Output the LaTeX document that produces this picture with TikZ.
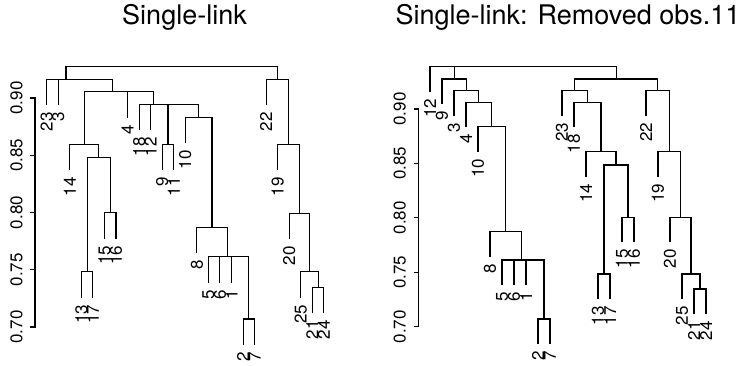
\documentclass[tikz,border=0pt]{standalone}
\usepackage{fontspec}
\setmainfont{TeX Gyre Heros}
\usetikzlibrary{calc}
\tikzset{
  dline/.style={line width=1.05pt, black, line cap=rect},
  leaflab/.style={rotate=90, anchor=east, inner sep=0pt, font=\fontsize{17}{17}\selectfont},
  axlab/.style={rotate=90, anchor=center, inner sep=0pt, font=\fontsize{17}{17}\selectfont},
  ttl/.style={anchor=base, inner sep=0pt, font=\fontsize{27}{27}\selectfont}
}
\newcommand\mrg[4]{\coordinate (#4) at (#3); \draw[dline] (#1) |- (#4) -| (#2);}
\begin{document}
\begin{tikzpicture}[x=1pt,y=-1pt]
\useasboundingbox (0,0) rectangle (746,366);
% titles
\node[ttl] (t1) at (184.5,25) {Single-link};
\node[ttl] (t2) at (568,25) {Single-link: Removed obs.11};
% ---------------- left panel ----------------
\draw[dline] (35,98) coordinate (axA0) -- (35,327) coordinate (axA1);
\foreach \v/\y in {0.90/98,0.85/155.25,0.80/212.5,0.75/269.75,0.70/327}{
  \draw[dline] (35,\y) coordinate (tA\v) -- (31,\y);
  \node[axlab] (yA\v) at (16.5,\y) {\v};
}
\foreach \lab/\x/\y in {23/46.7/104.8, 3/58.25/104.8, 14/69.8/169.8, 13/81.35/297.2, 17/92.9/297.2,
  15/104.45/238.2, 16/116.0/238.2, 4/127.55/117.2, 18/139.1/129.8, 12/150.65/129.8, 9/162.2/169.8,
  11/173.75/169.8, 10/185.3/142.8, 8/196.85/252.8, 5/208.4/282.2, 6/219.95/282.2, 1/231.5/282.2,
  2/243.05/344.5, 7/254.6/344.5, 22/266.15/104.8, 19/277.7/169.8, 20/289.25/238.8, 25/300.8/297.2,
  21/312.35/312.8, 24/323.9/312.8}{
  \coordinate (A\lab) at (\x,\y);
  \node[leaflab] (lA\lab) at (\x,\y+7.5) {\lab};
}
\mrg{A13}{A17}{87.125,271.7}{a1}
\mrg{A15}{A16}{110.225,212.7}{a2}
\mrg{a1}{a2}{98.675,157.3}{a3}
\mrg{A14}{a3}{84.2375,144.3}{a4}
\mrg{A9}{A11}{167.975,144.3}{a5}
\mrg{A2}{A7}{248.825,319}{a6}
\mrg{A5}{A6}{214.175,256.7}{a7}
\mrg{A1}{a6}{240.1625,256.7}{a8}
\mrg{a7}{a8}{227.17,256.7}{a9}
\mrg{A8}{a9}{212.01,227.3}{a10}
\mrg{A10}{a10}{198.655,117.3}{a11}
\mrg{a5}{a11}{183.315,104.3}{a12}
\mrg{A12}{a12}{166.98,104.3}{a13}
\mrg{A18}{a13}{153.04,104.3}{a14}
\mrg{A4}{a14}{140.295,91.7}{a15}
\mrg{a4}{a15}{112.27,91.7}{a16}
\mrg{A3}{a16}{85.26,79.3}{a17}
\mrg{A23}{a17}{65.98,79.3}{a18}
\mrg{A21}{A24}{318.125,287.3}{b1}
\mrg{A25}{b1}{309.46,271.7}{b2}
\mrg{A20}{b2}{299.36,213.3}{b3}
\mrg{A19}{b3}{288.53,144.3}{b4}
\mrg{A22}{b4}{277.34,79.3}{b5}
\mrg{a18}{b5}{171.66,66.7}{rootA}
% ---------------- right panel ----------------
\draw[dline] (418.3,109) coordinate (axB0) -- (418.3,326.7) coordinate (axB1);
\foreach \v/\y in {0.90/109,0.85/163.4,0.80/217.8,0.75/272.3,0.70/326.7}{
  \draw[dline] (418.3,\y) coordinate (tB\v) -- (414.3,\y);
  \node[axlab] (yB\v) at (399.8,\y) {\v};
}
\foreach \lab/\x/\y in {12/430/91.2, 9/442/103.5, 3/454/115.2, 4/466/126.8, 10/478/151.2,
  8/490/256.2, 5/502/284.5, 6/514/284.5, 1/526/284.5, 2/538/343.5, 7/550/343.5,
  23/562/115.2, 18/574/126.8, 14/586/176.2, 13/598/298.5, 17/610/298.5, 15/622/241.8, 16/634/241.8,
  22/646/115.2, 19/658/176.2, 20/670/241.8, 25/682/298.5, 21/694/313.5, 24/706/313.5}{
  \coordinate (B\lab) at (\x,\y);
  \node[leaflab] (lB\lab) at (\x,\y+7.5) {\lab};
}
\mrg{B2}{B7}{544,319}{r1}
\mrg{B5}{B6}{508,260}{r2}
\mrg{B1}{r1}{535,260}{r3}
\mrg{r2}{r3}{521.5,260}{r4}
\mrg{B8}{r4}{505.75,231.7}{r5}
\mrg{B10}{r5}{491.875,126.7}{r6}
\mrg{B4}{r6}{478.94,102.3}{r7}
\mrg{B3}{r7}{466.47,90.7}{r8}
\mrg{B9}{r8}{454.23,79}{r9}
\mrg{B13}{B17}{604,274}{s1}
\mrg{B15}{B16}{628,217.3}{s2}
\mrg{s1}{s2}{616,165}{s3}
\mrg{B14}{s3}{601,151.7}{s4}
\mrg{B18}{s4}{587.5,102.3}{s5}
\mrg{B23}{s5}{574.75,90.7}{s6}
\mrg{B21}{B24}{700,289}{u1}
\mrg{B25}{u1}{691,274}{u2}
\mrg{B20}{u2}{680.5,217.3}{u3}
\mrg{B19}{u3}{669.25,151.7}{u4}
\mrg{B22}{u4}{657.625,90.7}{u5}
\mrg{s6}{u5}{616.19,79}{w1}
\mrg{r9}{w1}{535.21,66.7}{w2}
\mrg{B12}{w2}{482.6,66.7}{rootB}
\end{tikzpicture}
\end{document}
